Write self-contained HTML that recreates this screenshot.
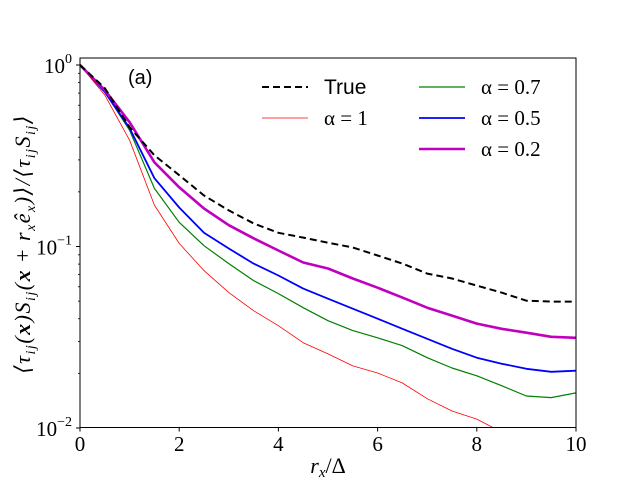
<!DOCTYPE html>
<html><head><meta charset="utf-8"><style>
body{margin:0;background:#fff;width:640px;height:480px;overflow:hidden}
svg text{font-family:"Liberation Serif","DejaVu Serif",serif;fill:#000}
</style></head><body>
<svg id="chart" width="640" height="480" xmlns="http://www.w3.org/2000/svg">
<defs><clipPath id="clip"><rect x="80" y="58" width="496" height="369.5"/></clipPath></defs>
<g id="axes"></g>
<g id="series" clip-path="url(#clip)"></g>
<rect x="80" y="58" width="496" height="369.5" fill="none" stroke="#000" stroke-width="1"/>
<text x="128" y="84" font-size="20" style="font-family:'Liberation Sans','DejaVu Sans',sans-serif">(a)</text>
<text x="328" y="473" font-size="22" text-anchor="middle" font-style="italic">r<tspan font-size="15" dy="4">x</tspan><tspan dy="-4" font-style="normal">/Δ</tspan></text>
<text transform="translate(30,244) rotate(-90)" font-size="22" letter-spacing="1.5" text-anchor="middle" font-style="italic">⟨τ<tspan font-size="14" dy="5">ij</tspan><tspan dy="-5">(</tspan><tspan font-weight="bold">x</tspan><tspan>)S</tspan><tspan font-size="14" dy="5">ij</tspan><tspan dy="-5">(</tspan><tspan font-weight="bold">x</tspan><tspan font-style="normal"> + </tspan><tspan>r</tspan><tspan font-size="14" dy="5">x</tspan><tspan dy="-5">ê</tspan><tspan font-size="14" dy="5">x</tspan><tspan dy="-5">)⟩/⟨τ</tspan><tspan font-size="14" dy="5">ij</tspan><tspan dy="-5">S</tspan><tspan font-size="14" dy="5">ij</tspan><tspan dy="-5">⟩</tspan></text>
<g id="legend"></g>
</svg>
<script>
const xs=[0,0.5,1,1.5,2,2.5,3,3.5,4,4.5,5,5.5,6,6.5,7,7.5,8,8.5,9,9.5,10];
const trueVals=[1,0.746,0.454,0.318,0.247,0.191,0.158,0.134,0.119,0.112,0.105,0.0987,0.0892,0.0805,0.0709,0.0666,0.0609,0.0557,0.0503,0.0497,0.0497];
const alpha1=[1,0.683,0.385,0.169,0.104,0.0737,0.0557,0.0443,0.0366,0.0295,0.0256,0.022,0.0201,0.0177,0.0145,0.0124,0.0112,0.0095,0.009,0.009,0.009];
const alpha07=[1,0.71,0.437,0.209,0.136,0.101,0.0805,0.0649,0.055,0.046,0.039,0.0344,0.0314,0.0284,0.0244,0.0214,0.0194,0.0171,0.015,0.0147,0.0156];
const alpha05=[1,0.71,0.449,0.238,0.164,0.119,0.0975,0.0805,0.0692,0.0586,0.0516,0.0454,0.040,0.0352,0.031,0.0273,0.0244,0.0226,0.0212,0.0204,0.0207];
const alpha02=[1,0.727,0.484,0.291,0.212,0.162,0.131,0.111,0.095,0.0816,0.0756,0.0666,0.0593,0.0523,0.046,0.0416,0.0376,0.0352,0.0335,0.0318,0.0314];
const xTicks=[0,2,4,6,8,10];
const yTicks=[0,-1,-2];
const NS="http://www.w3.org/2000/svg";
const X=v=>80+v*49.6;
const Y=v=>65-Math.log10(v)*181.5;
function mk(tag,attrs,parent){const e=document.createElementNS(NS,tag);for(const k in attrs)e.setAttribute(k,attrs[k]);parent.appendChild(e);return e;}
const axes=document.getElementById('axes');
xTicks.forEach(t=>{
  const l=mk('line',{x1:X(t),x2:X(t),y1:427.5,y2:431.5,stroke:'#000'},axes);
  
  
  const tx=mk('text',{x:X(t),y:451,'font-size':21,'text-anchor':'middle'},axes);
  tx.textContent=t;
  
  
});
yTicks.forEach(p=>{
  const y=Y(Math.pow(10,p));
  const l=mk('line',{x1:76,x2:80,y1:y,y2:y,stroke:'#000'},axes);
  
  
  const tx=mk('text',{x:72,y:y+8,'font-size':21,'text-anchor':'end'},axes);
  tx.innerHTML='10<tspan font-size="14" dy="-10">'+(p<0?'−'+(-p):p)+'</tspan>';
  
  
});
[-2,-1].forEach(p=>{for(let m=2;m<=9;m++){const y=Y(m*Math.pow(10,p));
  const l=mk('line',{x1:78,x2:80,y1:y,y2:y,stroke:'#000','stroke-width':0.8},axes);
  
  }});
const series=[
 {d:alpha1,c:'#ff0000',w:0.8,dash:null,n:'alpha-1-line',lab:'α = 1'},
 {d:alpha07,c:'#008000',w:1.2,dash:null,n:'alpha-0.7-line',lab:'α = 0.7'},
 {d:alpha05,c:'#0000ff',w:1.8,dash:null,n:'alpha-0.5-line',lab:'α = 0.5'},
 {d:alpha02,c:'#bf00bf',w:2.6,dash:null,n:'alpha-0.2-line',lab:'α = 0.2'},
 {d:trueVals,c:'#000',w:2,dash:'7,4',n:'true-line',lab:'True'}];
const sg=document.getElementById('series');
series.forEach(s=>{
  const pts=xs.map((x,i)=>X(x).toFixed(1)+','+Y(s.d[i]).toFixed(1)).join(' ');
  const p=mk('polyline',{points:pts,fill:'none',stroke:s.c,'stroke-width':s.w,'stroke-linejoin':'round'},sg);
  if(s.dash)p.setAttribute('stroke-dasharray',s.dash);
  
  
});
const lg=document.getElementById('legend');
const items=[[4,262,87],[0,262,118],[1,419,87],[2,419,118],[3,419,149]];
items.forEach(([i,x,y])=>{
  const s=series[i];
  const l=mk('line',{x1:x,x2:x+46,y1:y,y2:y,stroke:s.c,'stroke-width':s.w},lg);
  if(s.dash)l.setAttribute('stroke-dasharray',s.dash);
  
  
  const t=mk('text',{x:x+62,y:y+7,'font-size':21},lg);
  if(i===4)t.setAttribute('style',"font-family:'Liberation Sans','DejaVu Sans',sans-serif");
  t.textContent=s.lab;
  
  
});
</script>
</body></html>
